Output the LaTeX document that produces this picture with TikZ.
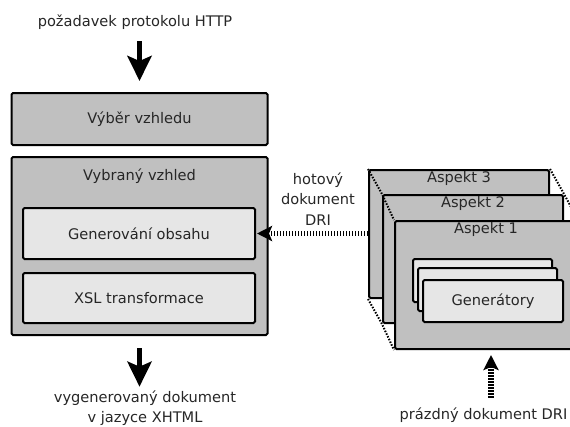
\documentclass[tikz,border=0pt]{standalone}
\usepackage{fontspec}
\setmainfont{DejaVu Sans}
\usetikzlibrary{arrows.meta}
\definecolor{boxgray}{RGB}{192,192,192}
\definecolor{boxlight}{RGB}{230,230,230}

\begin{document}
\begin{tikzpicture}[x=1pt,y=-1pt]
\tikzstyle{every node}+=[font=\fontsize{14.6}{20.5}\selectfont, inner sep=0pt, text=black!85]
\tikzstyle{outerbox}=[draw=black, line width=2pt, rounded corners=1.5pt, fill=boxgray]
\tikzstyle{innerbox}=[draw=black, line width=2pt, rounded corners=1.5pt, fill=boxlight]
\tikzstyle{bigarrow}=[line width=5pt, -{Stealth[length=25pt,width=24pt,inset=5pt]}]
\tikzstyle{dotarrow}=[line width=5.5pt, dash pattern=on 1.5pt off 1.5pt, -{Stealth[length=15pt,width=15pt,inset=3pt]}]
\tikzstyle{perspline}=[line width=2pt, dash pattern=on 1.5pt off 1.5pt]
\useasboundingbox (0,0) rectangle (570,426);
\node (http) at (135,22) {požadavek protokolu HTTP};
\node [outerbox, minimum width=256pt, minimum height=52pt] (vyber) at (139.5,119) {Výběr vzhledu};
\node [outerbox, minimum width=256pt, minimum height=178pt] (vybrany) at (139.5,246) {};
\node [anchor=north] (vybranylabel) at ([yshift=-13pt]vybrany.north) {Vybraný vzhled};
\node [innerbox, minimum width=232pt, minimum height=51pt] (gen) at (139,233.5) {Generování obsahu};
\node [innerbox, minimum width=232pt, minimum height=50pt] (xsl) at (139,298) {XSL transformace};
\node [align=center] (vystup) at (145,408) {vygenerovaný dokument\\v jazyce XHTML};
\node [outerbox, minimum width=180pt, minimum height=128pt] (a3) at (459,234) {};
\node [anchor=north] (a3label) at ([yshift=-2pt]a3.north) {Aspekt 3};
\node [outerbox, minimum width=180pt, minimum height=128pt] (a2) at (473,259) {};
\node [anchor=north] (a2label) at ([yshift=-2pt]a2.north) {Aspekt 2};
\node [outerbox, minimum width=182pt, minimum height=128pt] (a1) at (486,285) {};
\node [anchor=north] (a1label) at ([yshift=-2pt]a1.north) {Aspekt 1};
\node [innerbox, minimum width=139pt, minimum height=43pt] (g3) at (482.5,280.5) {};
\node [innerbox, minimum width=139pt, minimum height=43pt] (g2) at (487.5,289.5) {};
\node [innerbox, minimum width=140pt, minimum height=42pt] (g1) at (493,301) {Generátory};
\node [align=center] (hotovy) at (318,199) {hotový\\dokument\\DRI};
\node (prazdny) at (483.5,415) {prázdný dokument DRI};
\draw [bigarrow, shorten <=11.5pt, shorten >=11pt] (vyber.north |- http.south) -- (vyber.north);
\draw [bigarrow, shorten <=12pt, shorten >=3.5pt] (vybrany.south) -- (vybrany.south |- vystup.north);
\draw [dotarrow, shorten >=1pt] (a3.west |- gen.east) -- (gen.east);
\draw [dotarrow, shorten <=9.5pt, shorten >=5pt] ([xshift=7.5pt]prazdny.north) -- ([xshift=7.5pt]prazdny.north |- a1.south);
\draw [perspline] (a3.north west) -- (a2.north west) -- (a1.north west);
\draw [perspline] (a3.south west) -- (a2.south west) -- (a1.south west);
\draw [perspline] (a3.north east) -- (a2.north east) -- (a1.north east);
\end{tikzpicture}
\end{document}
